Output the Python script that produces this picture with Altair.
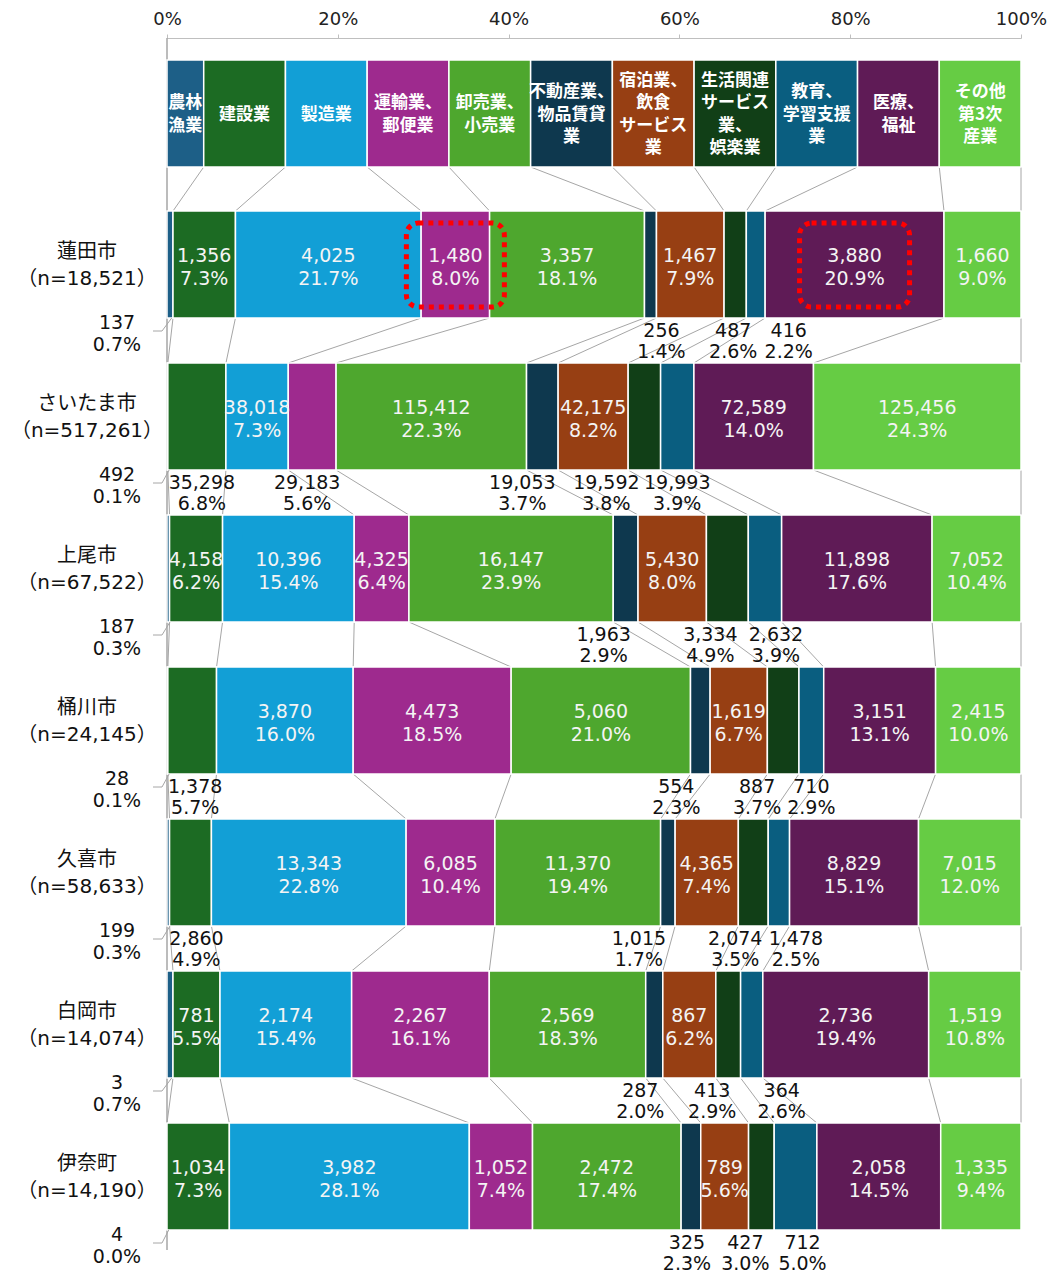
import altair as alt
import pandas as pd

# ---------------- data ----------------
cities = ["蓮田市", "さいたま市", "上尾市", "桶川市", "久喜市", "白岡市", "伊奈町"]
city_n = [18521, 517261, 67522, 24145, 58633, 14074, 14190]

categories = ["農林漁業", "建設業", "製造業", "運輸業、郵便業", "卸売業、小売業",
              "不動産業、物品賃貸業", "宿泊業、飲食サービス業", "生活関連サービス業、娯楽業",
              "教育、学習支援業", "医療、福祉", "その他第3次産業"]
header_text = ["農林\n漁業", "建設業", "製造業", "運輸業、\n郵便業", "卸売業、\n小売業",
               "不動産業、\n物品賃貸\n業", "宿泊業、\n飲食\nサービス\n業",
               "生活関連\nサービス\n業、\n娯楽業", "教育、\n学習支援\n業", "医療、\n福祉",
               "その他\n第3次\n産業"]

counts_hasuda = [137, 1356, 4025, 1480, 3357, 256, 1467, 487, 416, 3880, 1660]
counts_saitama = [492, 35298, 38018, 29183, 115412, 19053, 42175, 19592, 19993, 72589, 125456]
counts_ageo = [187, 4158, 10396, 4325, 16147, 1963, 5430, 3334, 2632, 11898, 7052]
counts_okegawa = [28, 1378, 3870, 4473, 5060, 554, 1619, 887, 710, 3151, 2415]
counts_kuki = [199, 2860, 13343, 6085, 11370, 1015, 4365, 2074, 1478, 8829, 7015]
counts_shiraoka = [3, 781, 2174, 2267, 2569, 287, 867, 413, 364, 2736, 1519]
counts_ina = [4, 1034, 3982, 1052, 2472, 325, 789, 427, 712, 2058, 1335]

pct_hasuda = [0.7, 7.3, 21.7, 8.0, 18.1, 1.4, 7.9, 2.6, 2.2, 20.9, 9.0]
pct_saitama = [0.1, 6.8, 7.3, 5.6, 22.3, 3.7, 8.2, 3.8, 3.9, 14.0, 24.3]
pct_ageo = [0.3, 6.2, 15.4, 6.4, 23.9, 2.9, 8.0, 4.9, 3.9, 17.6, 10.4]
pct_okegawa = [0.1, 5.7, 16.0, 18.5, 21.0, 2.3, 6.7, 3.7, 2.9, 13.1, 10.0]
pct_kuki = [0.3, 4.9, 22.8, 10.4, 19.4, 1.7, 7.4, 3.5, 2.5, 15.1, 12.0]
pct_shiraoka = [0.7, 5.5, 15.4, 16.1, 18.3, 2.0, 6.2, 2.9, 2.6, 19.4, 10.8]
pct_ina = [0.0, 7.3, 28.1, 7.4, 17.4, 2.3, 5.6, 3.0, 5.0, 14.5, 9.4]

counts = [counts_hasuda, counts_saitama, counts_ageo, counts_okegawa,
          counts_kuki, counts_shiraoka, counts_ina]
pcts = [pct_hasuda, pct_saitama, pct_ageo, pct_okegawa, pct_kuki, pct_shiraoka, pct_ina]

# ---------------- style / layout ----------------
colors = ["#1d5f87", "#1c6b23", "#129fd6", "#9e2a8e", "#4ea72e", "#0e384e",
          "#973f13", "#113f17", "#0a5e80", "#5f1b56", "#66cc44"]
FONT = "DejaVu Sans, Noto Sans CJK JP"
CJK = "Noto Sans CJK JP"
W, H = 854, 1237
PX = W / 100.0
HEAD_TOP, HEAD_BOT = 22, 129
ROW0, PITCH, BAR_H = 173, 152, 107
AGRI_HEAD_W = 4.3
LINE_C = "#a6a6a6"
LH_IN, LH_OUT, LH_LEFT, LH_CITY, LH_HEAD = 23, 21, 22, 27, 22.5

# labels drawn below the bar (category index -> horizontal nudge in px)
outside = {
    "蓮田市": {5: 11, 7: -2, 8: 33},
    "さいたま市": {1: 5, 3: -5, 5: -20, 7: -38, 8: 0},
    "上尾市": {5: -22, 7: -17, 8: 11},
    "桶川市": {1: 3, 5: -24, 7: -26, 8: 0},
    "久喜市": {1: 6, 5: -29, 7: -18, 8: 17},
    "白岡市": {5: -14, 7: -16, 8: 30},
    "伊奈町": {5: -4, 7: -16, 8: 7},
}
# red dotted highlight boxes: (city, category index, half width px)
highlights = [("蓮田市", 3, 49), ("蓮田市", 9, 55)]


def first_line_y(center, text, lh):
    """Vega puts the first line at y; shift so the block is centred."""
    n = text.count("\n") + 1
    return center - (n - 1) * lh / 2


# ---------------- build tables ----------------
seg_rows, in_rows, out_rows, left_rows, conn_rows, lead_rows, city_rows, hl_rows = [], [], [], [], [], [], [], []
edges_all = []
for i, city in enumerate(cities):
    p = pcts[i]
    tot = sum(p)
    e = [0.0]
    for v in p:
        e.append(e[-1] + v / tot * 100.0)
    edges_all.append(e)
    top = ROW0 + PITCH * i
    bot = top + BAR_H
    for k, cat in enumerate(categories):
        seg_rows.append(dict(cat=cat, x=e[k], x2=e[k + 1], y=top, y2=bot))
        c = (e[k] + e[k + 1]) / 2
        txt = f"{counts[i][k]:,}\n{p[k]:.1f}%"
        if k == 0:
            left_rows.append(dict(x=-50 / PX, y=first_line_y(bot + 16, txt, LH_LEFT), t=txt))
            lead_rows.append(dict(x=-14 / PX, x2=-5 / PX, y=bot + 13, y2=bot + 13))
            lead_rows.append(dict(x=-5 / PX, x2=c + 0.2, y=bot + 13, y2=bot))
        elif k in outside[city]:
            out_rows.append(dict(x=c + outside[city][k] / PX,
                                 y=first_line_y(bot + 23, txt, LH_OUT), t=txt))
        else:
            in_rows.append(dict(x=c, y=first_line_y((top + bot) / 2 + 3, txt, LH_IN), t=txt))
    ct = f"{city}\n（n={city_n[i]:,}）"
    city_rows.append(dict(x=-80 / PX, y=first_line_y((top + bot) / 2 + 1, ct, LH_CITY), t=ct))

hb = [0.0, AGRI_HEAD_W] + [AGRI_HEAD_W + (100 - AGRI_HEAD_W) / 10 * j for j in range(1, 11)]
head_rows = [dict(cat=categories[k], x=hb[k], x2=hb[k + 1], y=HEAD_TOP, y2=HEAD_BOT,
                  xc=(hb[k] + hb[k + 1]) / 2,
                  yc=first_line_y((HEAD_TOP + HEAD_BOT) / 2 + 1, header_text[k], LH_HEAD),
                  t=header_text[k])
             for k in range(11)]

for k in range(11):
    conn_rows.append(dict(x=hb[k + 1], y=HEAD_BOT, x2=edges_all[0][k + 1], y2=ROW0))
for i in range(len(cities) - 1):
    b = ROW0 + PITCH * i + BAR_H
    t = ROW0 + PITCH * (i + 1)
    for k in range(11):
        conn_rows.append(dict(x=edges_all[i][k + 1], y=b, x2=edges_all[i + 1][k + 1], y2=t))

for city, k, hw in highlights:
    i = cities.index(city)
    e = edges_all[i]
    c = (e[k] + e[k + 1]) / 2
    top = ROW0 + PITCH * i
    hl_rows.append(dict(x=c - hw / PX, x2=c + hw / PX, y=top + 12, y2=top + BAR_H - 11))

# ---------------- chart ----------------
xaxis = alt.Axis(orient="top", values=[0, 20, 40, 60, 80, 100], labelExpr="datum.value + '%'",
                 title=None, grid=False, labelFontSize=18, labelFont=FONT, labelColor="#222222",
                 labelFlush=False, labelOverlap=False, labelPadding=6, tickSize=4,
                 domainColor="#bfbfbf", tickColor="#bfbfbf")
xs = alt.Scale(domain=[0, 100], nice=False, zero=False)
ys = alt.Scale(domain=[0, H], reverse=True, nice=False, zero=False)


def X(f="x"):
    return alt.X(f"{f}:Q", scale=xs, axis=xaxis)


def Y(f="y"):
    return alt.Y(f"{f}:Q", scale=ys, axis=None)


color = alt.Color("cat:N", scale=alt.Scale(domain=categories, range=colors), legend=None)

connectors = alt.Chart(pd.DataFrame(conn_rows)).mark_rule(color=LINE_C, strokeWidth=1).encode(
    x=X(), x2="x2:Q", y=Y(), y2="y2:Q")

left_axis = alt.Chart(pd.DataFrame([dict(x=0, y=0, y2=1212)])).mark_rule(
    color=LINE_C, strokeWidth=1.5).encode(x=X(), y=Y(), y2="y2:Q")

bars = alt.Chart(pd.DataFrame(seg_rows)).mark_rect(stroke="white", strokeWidth=1.5).encode(
    x=X(), x2="x2:Q", y=Y(), y2="y2:Q", color=color)

heads = alt.Chart(pd.DataFrame(head_rows)).mark_rect(stroke="white", strokeWidth=1.5).encode(
    x=X(), x2="x2:Q", y=Y(), y2="y2:Q", color=color)

head_text = alt.Chart(pd.DataFrame(head_rows)).mark_text(
    font=CJK, fontSize=17, fontWeight="bold", color="white", lineBreak="\n", lineHeight=LH_HEAD,
    align="center", baseline="middle").encode(x=X("xc"), y=Y("yc"), text="t:N")

in_text = alt.Chart(pd.DataFrame(in_rows)).mark_text(
    font=FONT, fontSize=19, color="#f4f4f4", lineBreak="\n", lineHeight=LH_IN,
    align="center", baseline="middle").encode(x=X(), y=Y(), text="t:N")

out_text = alt.Chart(pd.DataFrame(out_rows)).mark_text(
    font=FONT, fontSize=19, color="#111111", lineBreak="\n", lineHeight=LH_OUT,
    align="center", baseline="middle").encode(x=X(), y=Y(), text="t:N")

left_text = alt.Chart(pd.DataFrame(left_rows)).mark_text(
    font=FONT, fontSize=19, color="#111111", lineBreak="\n", lineHeight=LH_LEFT,
    align="center", baseline="middle").encode(x=X(), y=Y(), text="t:N")

leaders = alt.Chart(pd.DataFrame(lead_rows)).mark_rule(color=LINE_C, strokeWidth=1).encode(
    x=X(), x2="x2:Q", y=Y(), y2="y2:Q")

city_text = alt.Chart(pd.DataFrame(city_rows)).mark_text(
    font=FONT, fontSize=20, color="#111111", lineBreak="\n", lineHeight=LH_CITY,
    align="center", baseline="middle").encode(x=X(), y=Y(), text="t:N")

hl = alt.Chart(pd.DataFrame(hl_rows)).mark_rect(
    fillOpacity=0, stroke="#ff0000", strokeWidth=5, strokeDash=[5, 5], cornerRadius=12).encode(
    x=X(), x2="x2:Q", y=Y(), y2="y2:Q")

chart = alt.layer(connectors, left_axis, bars, heads, head_text, in_text, out_text,
                  left_text, leaders, city_text, hl).properties(
    width=W, height=H,
    autosize=alt.AutoSizeParams(type="none"),
    padding={"left": 167, "top": 38, "right": 34, "bottom": 0},
    background="white",
).configure_view(stroke=None)

chart.save("out.html", embed_options={"renderer": "svg", "actions": False})
